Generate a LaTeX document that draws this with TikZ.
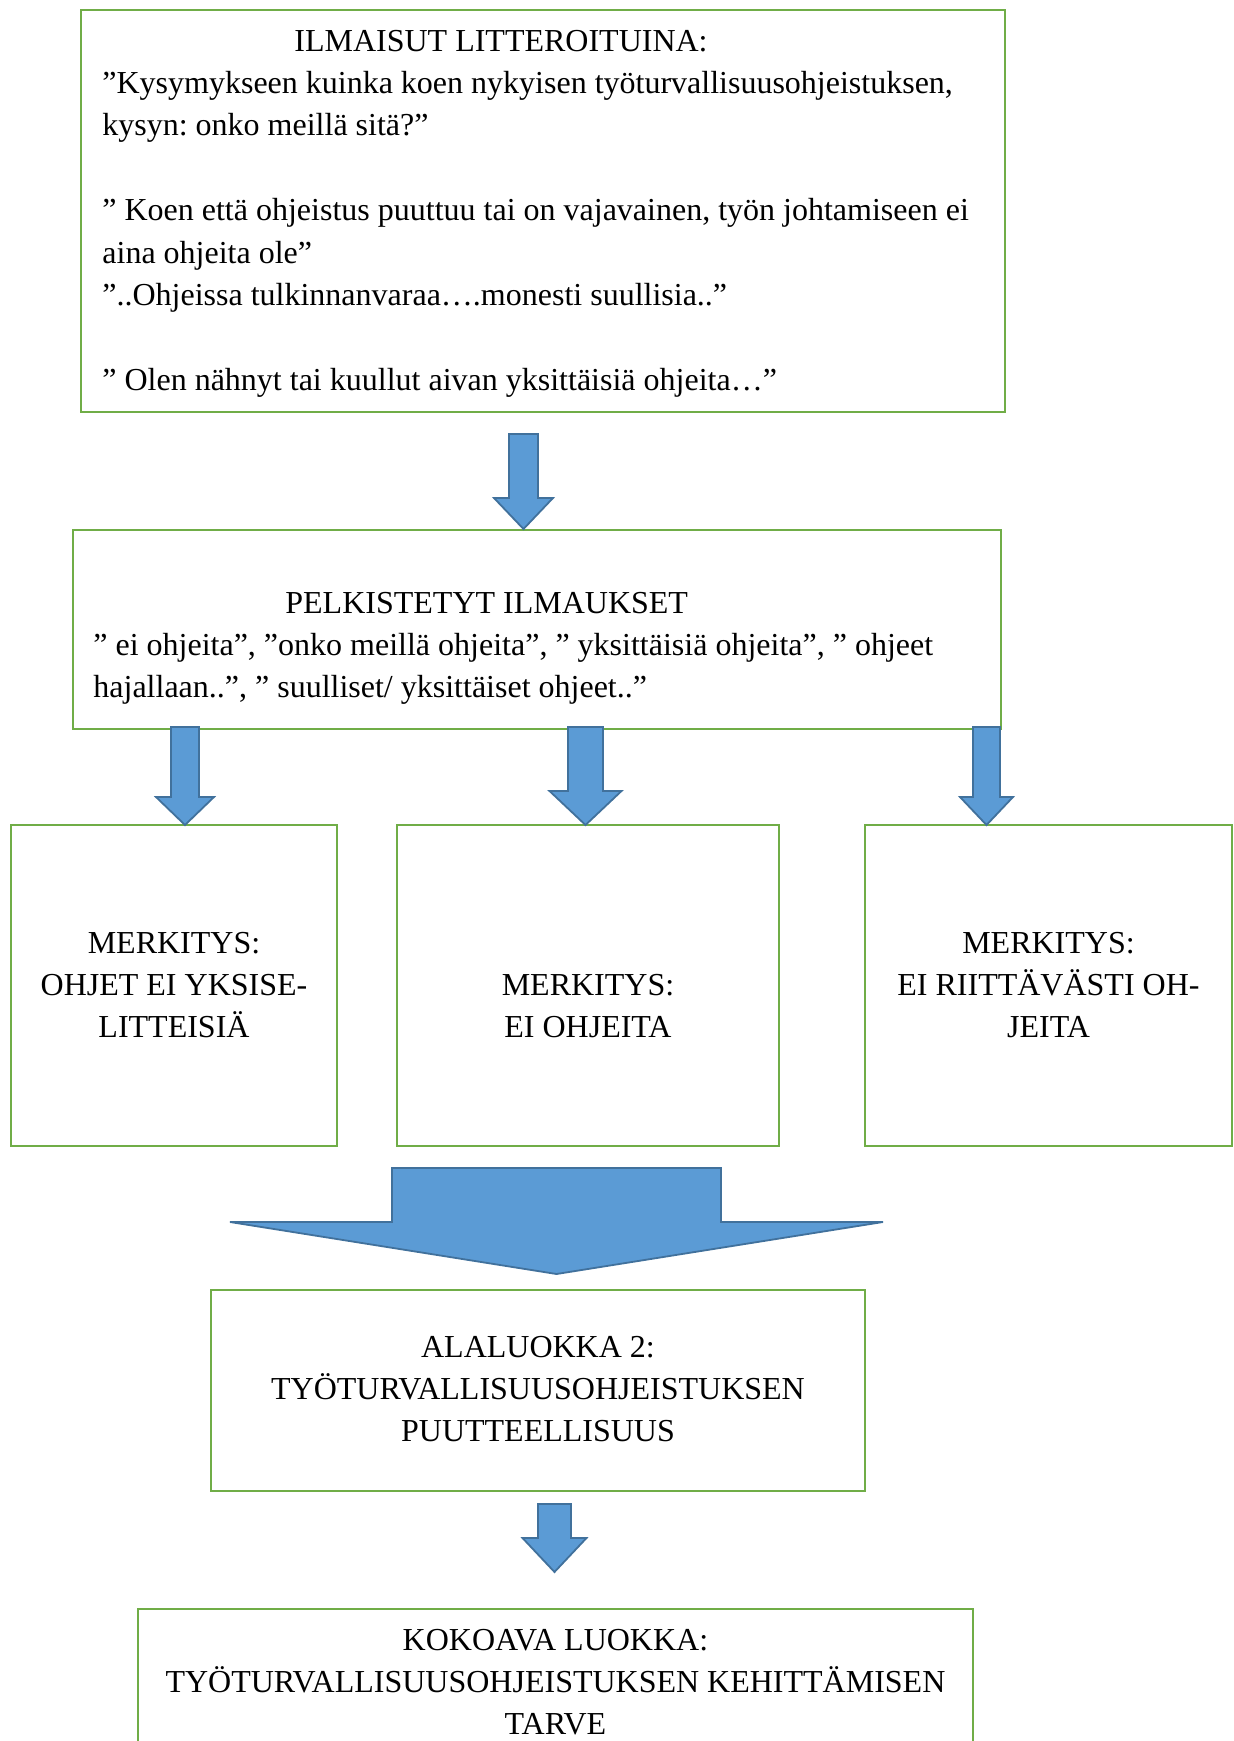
\documentclass[tikz,border=0pt]{standalone}
\usepackage{fontspec}
\setmainfont{Liberation Serif}
\frenchspacing
\definecolor{boxgreen}{HTML}{70AD47}
\definecolor{arrfill}{HTML}{5B9BD5}
\definecolor{arrline}{HTML}{41719C}
\newcommand\mytxtfont{\fontsize{16}{21.2}\selectfont\frenchspacing}
\tikzset{
  box/.style={draw=boxgreen, line width=1pt, inner sep=0pt},
  barrow/.style={fill=arrfill, draw=arrline, line width=0.9pt, line join=miter},
  txt/.style={inner sep=0pt, font=\mytxtfont,
    execute at begin node={\spaceskip=0.25em\relax\xspaceskip=0.25em\relax}},
}
\newcommand\myblockarrow[6]{%
  \draw[barrow] (#1-#3,#2) -- (#1+#3,#2) -- (#1+#3,#4) -- (#1+#5,#4) -- (#1,#6)
    -- (#1-#5,#4) -- (#1-#3,#4) -- cycle;}
\begin{document}
\begin{tikzpicture}[x=0.5pt,y=-0.5pt]
\useasboundingbox (0,0) rectangle (1234,1741);
\clip (0,0) rectangle (1234,1741);
% boxes
\node[box, minimum width=462pt, minimum height=201pt] (b1) at (543,211) {};
\node[box, minimum width=464pt, minimum height=99.5pt] (b2) at (537,629.5) {};
\node[box, minimum width=163pt, minimum height=160.5pt] (m1) at (174,985.5) {};
\node[box, minimum width=191pt, minimum height=160.5pt] (m2) at (588,985.5) {};
\node[box, minimum width=183.5pt, minimum height=160.5pt] (m3) at (1048.5,985.5) {};
\node[box, minimum width=327pt, minimum height=100.5pt] (al) at (538,1390.5) {};
\node[box, minimum width=417.5pt, minimum height=95.5pt] (ko) at (555.5,1704.5) {};
% texts
\node[txt, text width=460pt, align=left, anchor=base west] (t1) at (102,51)
 {\hspace*{96pt}ILMAISUT LITTEROITUINA:\\
  ”Kysymykseen kuinka koen nykyisen työturvallisuusohjeistuksen,\\
  kysyn: onko meillä sitä?”\\[21.2pt]
  ” Koen että ohjeistus puuttuu tai on vajavainen, työn johtamiseen ei\\
  aina ohjeita ole”\\
  ”..Ohjeissa tulkinnanvaraa….monesti suullisia..”\\[21.2pt]
  ” Olen nähnyt tai kuullut aivan yksittäisiä ohjeita…”};
\node[txt, text width=460pt, align=left, anchor=base west] (t2) at (93,613)
 {\hspace*{96pt}PELKISTETYT ILMAUKSET\\
  ” ei ohjeita”, ”onko meillä ohjeita”, ” yksittäisiä ohjeita”, ” ohjeet\\
  hajallaan..”, ” suulliset/ yksittäiset ohjeet..”};
\node[txt, text width=160pt, align=center, anchor=base] (tm1) at (174,953)
 {MERKITYS:\\ OHJET EI YKSISE-\\ LITTEISIÄ};
\node[txt, text width=185pt, align=center, anchor=base] (tm2) at (588,995)
 {MERKITYS:\\ EI OHJEITA};
\node[txt, text width=180pt, align=center, anchor=base] (tm3) at (1048.5,953)
 {MERKITYS:\\ EI RIITTÄVÄSTI OH-\\ JEITA};
\node[txt, text width=320pt, align=center, anchor=base] (tal) at (538,1357)
 {ALALUOKKA 2:\\ TYÖTURVALLISUUSOHJEISTUKSEN\\ PUUTTEELLISUUS};
\node[txt, text width=415pt, align=center, anchor=base] (tko) at (555.5,1650)
 {KOKOAVA LUOKKA:\\ TYÖTURVALLISUUSOHJEISTUKSEN KEHITTÄMISEN\\ TARVE};
% block arrows
\myblockarrow{523.5}{434}{14.5}{498}{29.5}{529}
\myblockarrow{185}{727}{14}{797}{29}{825}
\myblockarrow{585.5}{727}{17.5}{791}{36}{825}
\myblockarrow{986.5}{727}{13.5}{797}{26.5}{825}
\myblockarrow{556.5}{1168}{164.5}{1222}{326.5}{1274}
\myblockarrow{554.5}{1504}{16.5}{1538}{32}{1572}
\end{tikzpicture}
\end{document}
